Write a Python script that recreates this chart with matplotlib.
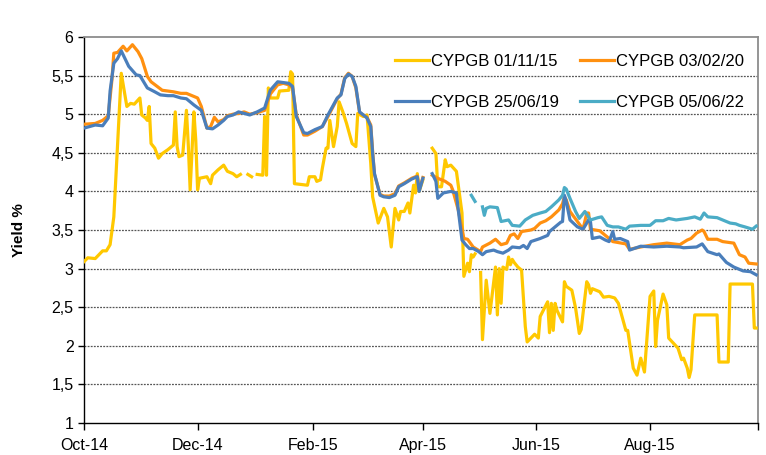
import numpy as np
import pandas as pd
import matplotlib
matplotlib.use("Agg")
import matplotlib.pyplot as plt
import matplotlib.dates as mdates
from matplotlib.ticker import FuncFormatter

START = pd.Timestamp("2014-10-01")
nan = np.nan

# days after 1 Oct 2014, yield in %
days_15 = [0, 2, 6, 10, 12, 14, 16, 18, 20, 23, 25, 27, 30, 31, 33, 34, 35, 36, 38, 40,
           42, 45, 48, 49, 50, 51, 53, 55, 56, 57, 59, 60, 61, 62, 66, 68, 69, 72, 75, 77,
           80, 82, 84, 86, 88, 90, 91, 93, 96, 97, 98, 99, 100, 104, 105, 110, 111, 112, 113, 120,
           121, 124, 125, 127, 128, 130, 131, 132, 134, 136, 137, 139, 141, 144, 146, 147, 150, 152, 154, 155,
           158, 161, 163, 165, 167, 169, 170, 172, 174, 175, 177, 178, 179, 180, 182, 184, 187, 189, 190, 192,
           194, 195, 197, 200, 203, 204, 206, 207, 208, 209, 210, 211, 213, 214, 216, 218, 221, 222, 223, 224,
           225, 227, 228, 229, 230, 231, 233, 235, 237, 238, 242, 244, 245, 249, 250, 251, 252, 253, 254, 257,
           258, 259, 262, 264, 266, 267, 270, 271, 272, 273, 277, 279, 282, 285, 287, 291, 292, 295, 297, 299,
           301, 304, 306, 307, 308, 311, 313, 314, 319, 321, 322, 324, 325, 326, 328, 340, 341, 346, 347, 359,
           360, 361]
cypgb_011115 = [3.09, 3.14, 3.13, 3.23, 3.23, 3.31, 3.67, 4.60, 5.53, 5.10, 5.14, 5.13, 5.21, 4.99, 4.95, 4.92, 5.10, 4.62, 4.56, 4.43,
                4.49, 4.54, 4.60, 5.03, 4.58, 4.45, 4.47, 5.05, 4.60, 4.02, 5.03, 4.67, 4.02, 4.17, 4.19, 4.10, 4.21, 4.28, 4.34, 4.26,
                4.23, 4.19, 4.22, nan, 4.22, 4.19, nan, 4.22, 4.21, 4.97, 4.21, 5.34, 5.21, 5.21, 5.30, 5.31, 5.55, 5.52, 4.10, 4.08,
                4.19, 4.19, 4.13, 4.15, 4.30, 4.56, 4.56, 4.92, 4.58, 4.84, 5.16, 5.03, 4.88, 4.62, 4.58, 5.01, 4.97, 4.99, 4.36, 3.93,
                3.59, 3.78, 3.67, 3.28, 3.78, 3.63, 3.74, 3.74, 3.85, 3.72, 4.08, 3.98, 4.23, 4.00, 4.15, nan, 4.56, 4.49, 4.06, 4.06,
                4.41, 4.32, 4.34, 4.26, 3.72, 2.90, 3.07, 2.96, 3.18, 3.15, 3.19, nan, 2.95, 2.08, 2.85, 2.42, 3.02, 2.40, 3.00, 2.55,
                3.02, 2.99, 3.15, 3.05, 3.12, 3.08, 3.02, 2.98, 2.25, 2.05, 2.15, 2.10, 2.38, 2.57, 2.17, 2.55, 2.20, 2.55, 2.46, 2.31,
                2.83, 2.77, 2.72, 2.49, 2.16, 2.21, 2.83, 2.79, 2.68, 2.74, 2.70, 2.63, 2.64, 2.62, 2.55, 2.20, 2.20, 1.71, 1.62, 1.84,
                1.66, 2.64, 2.71, 1.99, 2.33, 2.67, 2.53, 2.10, 1.97, 1.82, 1.84, 1.71, 1.59, 1.69, 2.40, 2.40, 1.79, 1.79, 2.80, 2.80,
                2.23, 2.23]

days_20 = [0, 6, 10, 13, 15, 16, 18, 21, 23, 26, 29, 31, 34, 36, 42, 48, 52, 55, 61, 63,
           66, 68, 70, 72, 75, 77, 80, 83, 86, 89, 93, 97, 100, 104, 107, 110, 112, 114, 118, 120,
           124, 128, 131, 136, 138, 140, 142, 144, 146, 148, 152, 154, 155, 156, 159, 161, 164, 167, 169, 172,
           176, 179, 180, 182, 184, 187, 190, 194, 197, 198, 201, 204, 206, 209, 213, 214, 218, 221, 224, 227,
           229, 231, 233, 235, 240, 242, 245, 248, 251, 255, 257, 258, 259, 261, 265, 268, 270, 271, 272, 277,
           281, 284, 291, 293, 299, 306, 313, 320, 324, 326, 329, 332, 333, 335, 340, 343, 349, 352, 355, 357,
           361]
cypgb_030220 = [4.87, 4.88, 4.92, 4.98, 5.45, 5.79, 5.80, 5.88, 5.82, 5.90, 5.81, 5.72, 5.49, 5.42, 5.31, 5.29, 5.27, 5.27, 5.21, 5.10,
                4.82, 4.84, 4.96, 4.90, 4.93, 4.98, 5.00, 5.01, 5.03, 5.00, 5.02, 5.05, 5.26, 5.38, 5.40, 5.38, 5.34, 4.99, 4.73, 4.73,
                4.78, 4.84, 4.97, 5.20, 5.26, 5.47, 5.53, 5.49, 5.34, 5.02, 4.96, 4.86, 4.52, 4.22, 3.96, 3.94, 3.94, 3.97, 4.07, 4.11,
                4.17, 4.20, 4.02, 4.18, nan, 4.21, 4.17, 4.13, 4.08, 4.02, 3.76, 3.39, 3.38, 3.28, 3.22, 3.28, 3.33, 3.38, 3.31, 3.33,
                3.43, 3.45, 3.39, 3.48, 3.50, 3.52, 3.59, 3.62, 3.67, 3.76, 3.84, 3.93, 3.89, 3.74, 3.61, 3.51, 3.72, 3.72, 3.51, 3.49,
                3.41, 3.35, 3.32, 3.25, 3.28, 3.31, 3.33, 3.31, 3.37, 3.39, 3.46, 3.50, 3.48, 3.38, 3.38, 3.35, 3.33, 3.18, 3.15, 3.07,
                3.06]

days_19 = [0, 6, 10, 13, 14, 16, 18, 20, 22, 24, 28, 30, 34, 38, 41, 45, 48, 52, 55, 59,
           63, 66, 69, 72, 75, 77, 80, 83, 86, 89, 93, 97, 100, 104, 107, 110, 112, 114, 118, 120,
           124, 128, 131, 136, 138, 140, 142, 144, 146, 148, 152, 154, 155, 156, 159, 161, 164, 167, 169, 172,
           176, 179, 180, 182, 184, 187, 189, 190, 193, 197, 200, 201, 203, 205, 207, 209, 212, 214, 216, 220,
           222, 225, 228, 230, 234, 236, 238, 240, 245, 249, 250, 256, 257, 258, 259, 261, 265, 268, 271, 272,
           273, 277, 280, 282, 284, 285, 288, 292, 293, 299, 306, 313, 320, 322, 329, 332, 335, 340, 341, 345,
           349, 354, 358, 361]
cypgb_250619 = [4.82, 4.86, 4.85, 4.95, 5.30, 5.66, 5.72, 5.82, 5.72, 5.62, 5.51, 5.50, 5.34, 5.29, 5.25, 5.24, 5.24, 5.21, 5.20, 5.12,
                5.05, 4.82, 4.81, 4.86, 4.92, 4.97, 4.99, 5.03, 5.01, 4.99, 5.03, 5.08, 5.31, 5.42, 5.41, 5.40, 5.36, 4.97, 4.76, 4.75,
                4.80, 4.84, 4.99, 5.21, 5.25, 5.46, 5.52, 5.49, 5.36, 5.03, 4.95, 4.84, 4.49, 4.23, 3.95, 3.93, 3.92, 3.95, 4.06, 4.10,
                4.16, 4.19, 4.00, 4.17, nan, 4.23, 4.13, 3.91, 3.98, 4.00, 3.98, 3.76, 3.37, 3.31, 3.26, 3.26, 3.22, 3.18, 3.22, 3.24,
                3.22, 3.20, 3.24, 3.28, 3.27, 3.30, 3.26, 3.35, 3.39, 3.43, 3.48, 3.60, 3.61, 3.95, 3.87, 3.63, 3.54, 3.51, 3.63, 3.61,
                3.39, 3.41, 3.37, 3.35, 3.48, 3.38, 3.39, 3.35, 3.24, 3.29, 3.28, 3.29, 3.28, 3.27, 3.28, 3.32, 3.22, 3.18, 3.19, 3.08,
                3.02, 2.97, 2.96, 2.92]

days_22 = [208, 210, 212, 214, 215, 216, 218, 222, 224, 228, 230, 234, 237, 241, 245, 248, 251, 255, 257, 258,
           259, 261, 264, 266, 269, 272, 276, 278, 281, 284, 287, 291, 293, 299, 304, 307, 311, 314, 318, 324,
           328, 331, 333, 335, 340, 343, 347, 350, 352, 355, 359, 361]
cypgb_050622 = [3.95, 3.87, nan, 3.80, 3.69, 3.78, 3.80, 3.79, 3.61, 3.63, 3.56, 3.55, 3.63, 3.69, 3.72, 3.74, 3.80, 3.89, 3.95, 4.05,
                4.03, 3.91, 3.74, 3.65, 3.74, 3.63, 3.66, 3.67, 3.56, 3.54, 3.54, 3.51, 3.55, 3.56, 3.56, 3.62, 3.62, 3.65, 3.63, 3.65,
                3.67, 3.64, 3.72, 3.67, 3.66, 3.63, 3.59, 3.58, 3.56, 3.54, 3.51, 3.55]

labels = ["CYPGB 01/11/15", "CYPGB 25/06/19", "CYPGB 03/02/20", "CYPGB 05/06/22"]
colors = ["#FFC800", "#4A7EBB", "#FF9010", "#4BACC6"]


def to_dates(days):
    return START + pd.to_timedelta(days, unit="D")


plt.rcParams["font.family"] = ["Liberation Sans", "DejaVu Sans"]

fig = plt.figure(figsize=(7.66, 4.55), dpi=100)
ax = fig.add_axes([0.1097, 0.0703, 0.8799, 0.8484])

series = [(days_15, cypgb_011115), (days_19, cypgb_250619),
          (days_20, cypgb_030220), (days_22, cypgb_050622)]
zorders = [3, 5, 4, 6]
handles = []
for (d, v), lab, col, z in zip(series, labels, colors, zorders):
    h, = ax.plot(to_dates(d), v, color=col, lw=2.3, label=lab, zorder=z,
                 solid_joinstyle="round")
    handles.append(h)

ax.set_ylim(1, 6)
ax.set_yticks(np.arange(1, 6.01, 0.5))
ax.yaxis.set_major_formatter(FuncFormatter(lambda v, p: ("%g" % v).replace(".", ",")))
ax.set_xlim(pd.Timestamp("2014-10-01"), pd.Timestamp("2015-09-28"))
ax.set_xticks(pd.to_datetime(["2014-10-01", "2014-12-01", "2015-02-01",
                              "2015-04-01", "2015-06-01", "2015-08-01", "2015-09-28"]))
ax.xaxis.set_major_formatter(mdates.DateFormatter("%b-%y"))
ax.tick_params(axis="both", labelsize=11.5, length=4, width=1, colors="black")
ax.tick_params(axis="x", length=5, pad=6)
plt.setp(ax.get_xticklabels()[-1], visible=False)

for yv in np.arange(1.5, 6, 0.5):
    ax.axhline(yv, color="#555555", lw=0.9, ls=(0, (1.5, 1)), zorder=1)

for s in ["left", "bottom"]:
    ax.spines[s].set_color("black")
    ax.spines[s].set_linewidth(1.0)
for s in ["top", "right"]:
    ax.spines[s].set_color("#8c8c8c")
    ax.spines[s].set_linewidth(1.3)

ax.set_ylabel("Yield %", fontsize=11, fontweight="bold", labelpad=18)

ax.legend(handles, labels, ncol=2, loc="upper left", bbox_to_anchor=(0.4395, 0.995),
          frameon=False, fontsize=12, handlelength=2.0, handletextpad=0.12,
          columnspacing=1.3, labelspacing=1.55)

fig.savefig("out.png", dpi=100)
